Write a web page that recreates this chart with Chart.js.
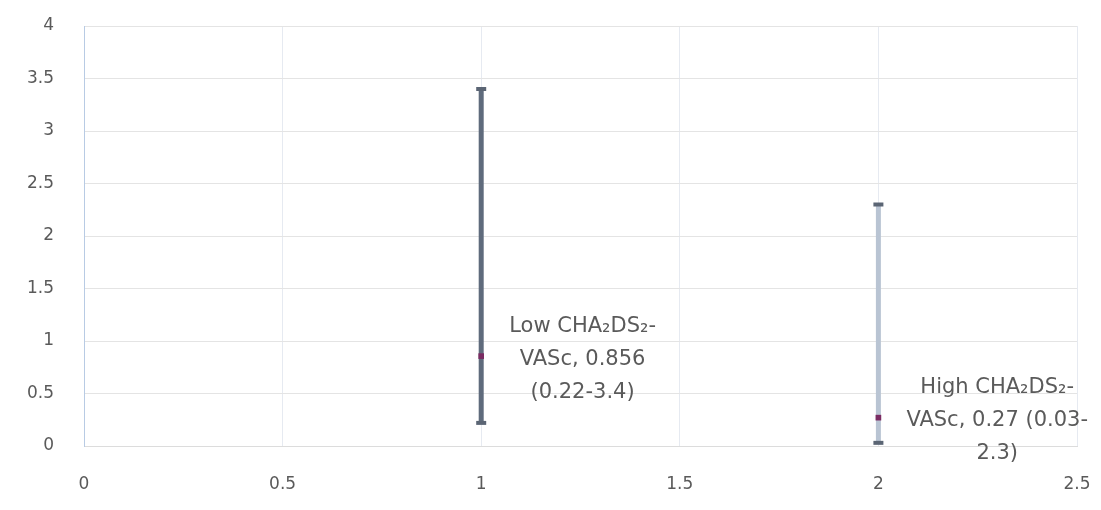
<!DOCTYPE html>
<html>
<head>
<meta charset="utf-8">
<script src="https://cdn.jsdelivr.net/npm/chart.js@4"></script>
<style>
  html, body { margin: 0; padding: 0; background: #fff; }
  #wrap { width: 1101px; height: 510px; }
</style>
</head>
<body>
<div id="wrap"><canvas id="chart" width="1101" height="510"></canvas></div>
<script>
// --- Data ---
const categories = ['Low CHA₂DS₂-VASc', 'High CHA₂DS₂-VASc'];
const xPositions = [1, 2];
const estimates = [0.856, 0.27];
const lowerCI = [0.22, 0.03];
const upperCI = [3.4, 2.3];
const labelLines = [
    ['Low CHA₂DS₂-', 'VASc, 0.856', '(0.22-3.4)'],
    ['High CHA₂DS₂-', 'VASc, 0.27 (0.03-', '2.3)']
];
const xTicks = [0, 0.5, 1, 1.5, 2, 2.5];
const yTicks = [0, 0.5, 1, 1.5, 2, 2.5, 3, 3.5, 4];

const FONT = "'DejaVu Sans', sans-serif";
const TEXT = '#5a5a5a';
const barColors = ['#5f6b7c', '#b9c4d3'];

// one line dataset per interval, caps drawn as line points at both ends
const datasets = [];
categories.forEach((name, i) => {
    datasets.push({
        label: name + ' CI',
        data: [{ x: xPositions[i], y: lowerCI[i] }, { x: xPositions[i], y: upperCI[i] }],
        showLine: true,
        borderColor: barColors[i],
        borderWidth: 5,
        pointStyle: 'line',
        pointRadius: 5,
        pointBorderWidth: 4,
        pointBorderColor: '#5b6574',
        order: 2
    });
});
datasets.push({
    label: 'Estimate',
    data: xPositions.map((x, i) => ({ x: x, y: estimates[i] })),
    showLine: false,
    pointStyle: 'rect',
    pointRadius: 4,
    backgroundColor: '#7a2b62',
    borderColor: '#7a2b62',
    borderWidth: 0,
    order: 1
});

// text labels next to each estimate
const pointLabels = {
    id: 'pointLabels',
    afterDatasetsDraw(chart) {
        const { ctx, scales: { x, y } } = chart;
        ctx.save();
        ctx.font = '21px ' + FONT;
        ctx.fillStyle = TEXT;
        ctx.textAlign = 'center';
        ctx.textBaseline = 'middle';
        labelLines.forEach((lines, i) => {
            const widths = lines.map(l => ctx.measureText(l).width);
            const blockW = Math.max(...widths);
            const cx = x.getPixelForValue(xPositions[i]) + 28 + blockW / 2;
            const cy = y.getPixelForValue(estimates[i]) + 3;
            lines.forEach((l, k) => ctx.fillText(l, cx, cy + (k - 1) * 33));
        });
        ctx.restore();
    }
};

new Chart(document.getElementById('chart'), {
    type: 'scatter',
    data: { datasets },
    options: {
        responsive: false,
        animation: false,
        layout: { padding: { top: 26, right: 24, left: 0, bottom: 0 } },
        plugins: { legend: { display: false }, tooltip: { enabled: false } },
        scales: {
            x: {
                type: 'linear',
                min: 0, max: 2.5,
                afterBuildTicks: s => { s.ticks = xTicks.map(v => ({ value: v })); },
                afterFit: s => { s.height = 64; s.paddingLeft = 0; s.paddingRight = 0; },
                grid: { color: '#e6eaf1', drawTicks: false },
                border: { color: '#dcdcdc' },
                ticks: { padding: 28, color: TEXT, font: { family: FONT, size: 17 }, callback: v => String(v) }
            },
            y: {
                min: 0, max: 4,
                afterBuildTicks: s => { s.ticks = yTicks.map(v => ({ value: v })); },
                afterFit: s => { s.width = 84; s.paddingTop = 0; s.paddingBottom = 0; },
                grid: { color: '#e4e4e4', drawTicks: false },
                border: { color: '#b8cbe4' },
                ticks: { padding: 30, color: TEXT, font: { family: FONT, size: 17 }, callback: v => String(v) }
            }
        }
    },
    plugins: [pointLabels]
});
</script>
</body>
</html>
